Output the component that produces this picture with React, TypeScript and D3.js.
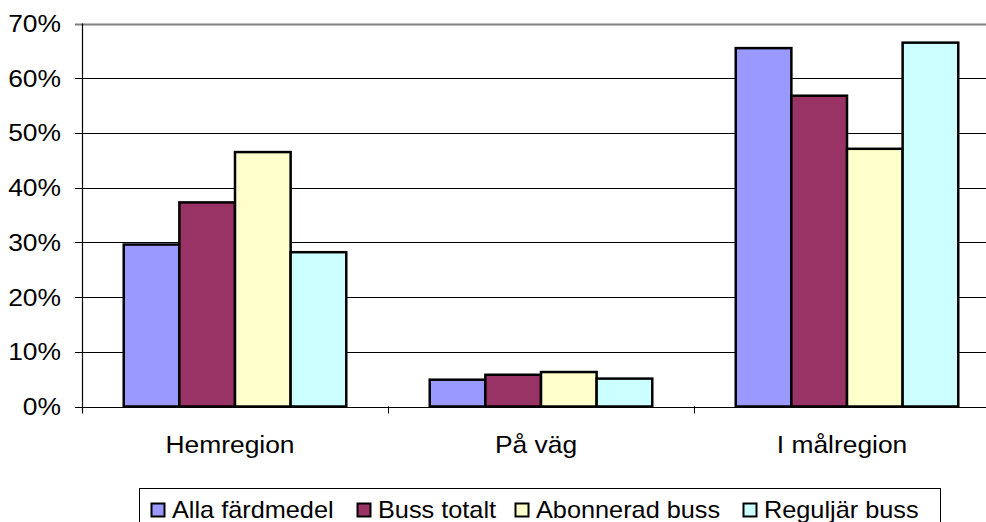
import React from "react";
import * as d3 from "d3";

const categories = ["Hemregion", "På väg", "I målregion"];
const seriesNames = ["Alla färdmedel", "Buss totalt", "Abonnerad buss", "Reguljär buss"];
const allaFardmedel = [0.296, 0.049, 0.655];
const bussTotalt = [0.373, 0.058, 0.568];
const abonneradBuss = [0.465, 0.063, 0.471];
const reguljarBuss = [0.282, 0.051, 0.665];
const seriesValues = [allaFardmedel, bussTotalt, abonneradBuss, reguljarBuss];
const colors = ["#9999FF", "#993366", "#FFFFCC", "#CCFFFF"];
const yTicks = [0, 0.1, 0.2, 0.3, 0.4, 0.5, 0.6, 0.7];

const W = 986;
const H = 522;
const left = 82;
const right = 1000;
const top = 23.5;
const bottom = 406.5;
const font = "Arial, 'Liberation Sans', sans-serif";
const SX = 1.1;

export default function App() {
  const x0 = d3.scaleBand<string>().domain(categories).range([left, right]).paddingInner(0).paddingOuter(0);
  const barW = x0.bandwidth() / 5.5;
  const x1 = d3
    .scaleBand<number>()
    .domain([0, 1, 2, 3])
    .range([0.75 * barW, 4.75 * barW])
    .paddingInner(0)
    .paddingOuter(0);
  const y = d3.scaleLinear().domain([0, 0.7]).range([bottom, top]);
  const fmt = d3.format(".0%");

  const legendMarkerX = [151, 357, 515, 743];

  return (
    <svg
      width={W}
      height={H}
      style={{ position: "absolute", left: 0, top: 0, background: "#fff" }}
      fontFamily={font}
    >
      <rect x={0} y={0} width={W} height={H} fill="#fff" />
      {yTicks.map((t) => (
        <line
          key={"g" + t}
          x1={left - 7}
          x2={right}
          y1={Math.round(y(t)) + 0.5}
          y2={Math.round(y(t)) + 0.5}
          stroke={t === 0.7 ? "#808080" : "#000"}
          strokeWidth={t === 0.7 ? 2 : 1}
        />
      ))}
      {yTicks.map((t) => (
        <text
          key={"t" + t}
          transform={`translate(61,${y(t) + 8.5}) scale(${SX},1)`}
          textAnchor="end"
          fontSize={24}
          fill="#000"
        >
          {fmt(t)}
        </text>
      ))}
      <line x1={left + 0.5} x2={left + 0.5} y1={top} y2={bottom + 7} stroke="#000" strokeWidth={1.2} />
      {categories.map((c) => (
        <line
          key={"ct" + c}
          x1={Math.round((x0(c) as number) + x0.bandwidth()) + 0.5}
          x2={Math.round((x0(c) as number) + x0.bandwidth()) + 0.5}
          y1={bottom}
          y2={bottom + 7}
          stroke="#000"
        />
      ))}
      {seriesValues.map((vals, si) =>
        vals.map((v, ci) => {
          const bx = (x0(categories[ci]) as number) + (x1(si) as number);
          return (
            <rect
              key={`b${si}-${ci}`}
              x={bx}
              y={y(v)}
              width={x1.bandwidth()}
              height={bottom - y(v)}
              fill={colors[si]}
              stroke="#000"
              strokeWidth={2.5}
            />
          );
        })
      )}
      {categories.map((c) => (
        <text
          key={"cl" + c}
          transform={`translate(${(x0(c) as number) + x0.bandwidth() / 2 - 5},453) scale(${SX},1)`}
          textAnchor="middle"
          fontSize={24}
          fill="#000"
        >
          {c}
        </text>
      ))}
      <rect x={139.5} y={488.5} width={801} height={50} fill="#fff" stroke="#000" strokeWidth={1} />
      {seriesNames.map((s, i) => (
        <g key={"l" + s}>
          <rect
            x={legendMarkerX[i] + 0.5}
            y={503.5}
            width={13}
            height={13}
            fill={colors[i]}
            stroke="#000"
            strokeWidth={2}
          />
          <text
            transform={`translate(${legendMarkerX[i] + 21},518) scale(1.1,1)`}
            fontSize={23}
            fill="#000"
          >
            {s}
          </text>
        </g>
      ))}
    </svg>
  );
}
